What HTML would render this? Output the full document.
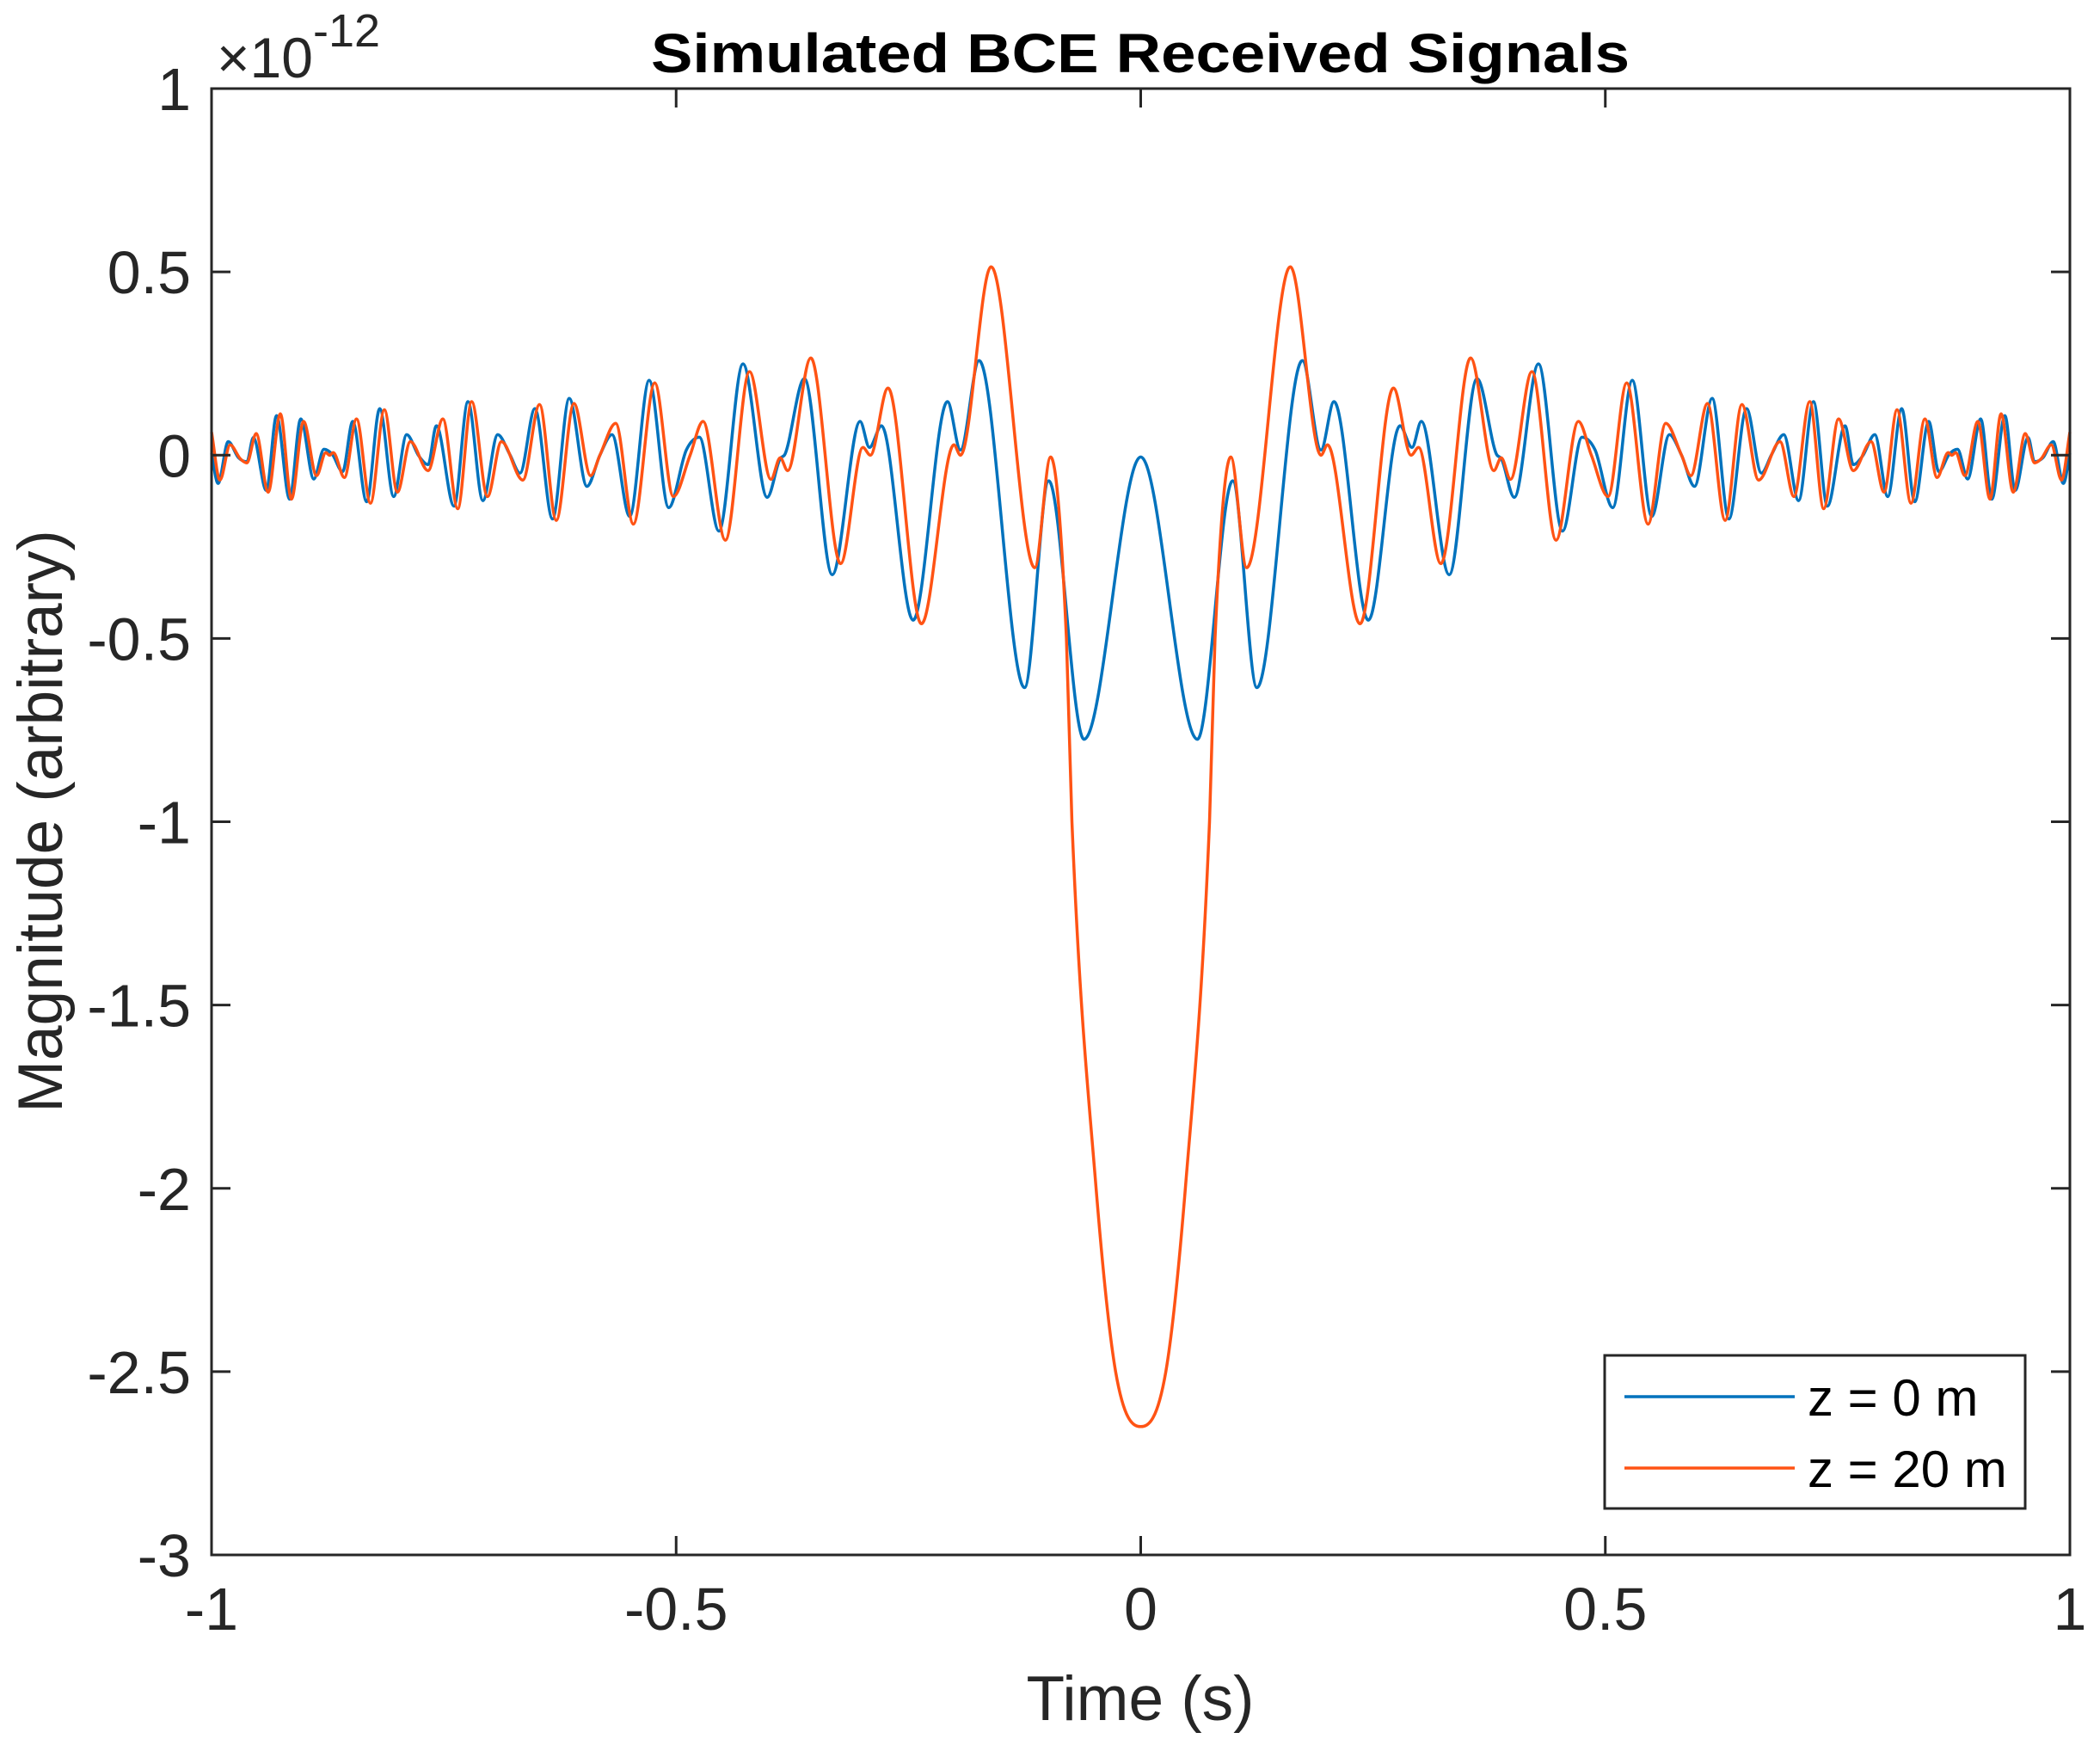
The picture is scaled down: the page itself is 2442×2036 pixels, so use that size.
<!DOCTYPE html>
<html><head><meta charset="utf-8"><style>
html,body{margin:0;padding:0;background:#fff;}
svg{display:block;font-family:"Liberation Sans",Arial,sans-serif;}
</style></head><body>
<svg id="chart" width="2442" height="2036" viewBox="0 0 2442 2036" xmlns="http://www.w3.org/2000/svg">
<rect width="2442" height="2036" fill="#fff"/>
<g id="plot"></g>
<text x="1326" y="84" text-anchor="middle" font-size="64" font-weight="bold" fill="#000" textLength="1138" lengthAdjust="spacingAndGlyphs">Simulated BCE Received Signals</text>
<text x="252" y="90" font-size="66" fill="#262626">×10<tspan font-size="54" dy="-36">-12</tspan></text>
<text x="1326" y="2000" text-anchor="middle" font-size="73" fill="#262626">Time (s)</text>
<text transform="translate(72,955) rotate(-90)" text-anchor="middle" font-size="73" fill="#262626">Magnitude (arbitrary)</text>
<g>
<rect x="1866" y="1576" width="489" height="178" fill="#fff" stroke="#262626" stroke-width="3"/>
<line x1="1889" y1="1624" x2="2087" y2="1624" stroke="#0072BD" stroke-width="3.5"/>
<text x="2102" y="1646" font-size="60" fill="#000">z = 0 m</text>
<line x1="1889" y1="1707" x2="2087" y2="1707" stroke="#FF5314" stroke-width="3.5"/>
<text x="2102" y="1729" font-size="60" fill="#000">z = 20 m</text>
</g>
</svg>
<script>
const xTicks = [-1, -0.5, 0, 0.5, 1];
const xTickLabels = ["-1", "-0.5", "0", "0.5", "1"];
const yTicks = [-3, -2.5, -2, -1.5, -1, -0.5, 0, 0.5, 1];
const yTickLabels = ["-3", "-2.5", "-2", "-1.5", "-1", "-0.5", "0", "0.5", "1"];
const blueT = [-1.0,-0.993,-0.982,-0.971,-0.962,-0.955,-0.941,-0.930,-0.916,-0.904,-0.890,-0.879,-0.870,-0.859,-0.848,-0.833,-0.819,-0.804,-0.790,-0.777,-0.767,-0.758,-0.739,-0.724,-0.708,-0.692,-0.679,-0.668,-0.652,-0.633,-0.615,-0.596,-0.582,-0.569,-0.550,-0.529,-0.508,-0.489,-0.475,-0.454,-0.428,-0.402,-0.388,-0.383,-0.362,-0.332,-0.302,-0.292,-0.279,-0.245,-0.208,-0.194,-0.174,-0.125,-0.099,-0.061,0,
0.061,0.099,0.125,0.174,0.194,0.208,0.245,0.279,0.292,0.302,0.332,0.362,0.383,0.388,0.402,0.428,0.454,0.475,0.489,0.508,0.529,0.550,0.569,0.582,0.596,0.615,0.633,0.652,0.668,0.679,0.692,0.708,0.724,0.739,0.758,0.767,0.777,0.790,0.804,0.819,0.833,0.848,0.859,0.870,0.879,0.890,0.904,0.916,0.930,0.941,0.955,0.962,0.971,0.982,0.993,1.0];
const blueV = [0.005,-0.077,0.037,-0.007,-0.018,0.048,-0.096,0.108,-0.12,0.099,-0.065,0.016,0.002,-0.045,0.092,-0.127,0.127,-0.113,0.056,-0.002,-0.026,0.080,-0.139,0.146,-0.124,0.056,0.002,-0.049,0.127,-0.174,0.155,-0.085,0,0.056,-0.167,0.204,-0.143,0.014,0.049,-0.207,0.249,-0.115,-0.009,0.002,0.209,-0.326,0.092,0.021,0.08,-0.45,0.146,0.014,0.258,-0.634,-0.07,-0.775,-0.005,
-0.775,-0.07,-0.634,0.258,0.014,0.146,-0.45,0.08,0.021,0.092,-0.326,0.209,0.002,-0.009,-0.115,0.249,-0.207,0.049,0.014,-0.143,0.204,-0.167,0.056,0,-0.085,0.155,-0.174,0.127,-0.049,0.002,0.056,-0.124,0.146,-0.139,0.080,-0.026,-0.002,0.056,-0.113,0.127,-0.127,0.092,-0.045,0.002,0.016,-0.065,0.099,-0.12,0.108,-0.096,0.048,-0.018,-0.007,0.037,-0.077,0.005];
const orangeT = [-1.0,-0.991,-0.980,-0.969,-0.962,-0.952,-0.939,-0.926,-0.914,-0.901,-0.887,-0.877,-0.873,-0.869,-0.857,-0.844,-0.829,-0.814,-0.800,-0.786,-0.767,-0.751,-0.735,-0.720,-0.703,-0.688,-0.665,-0.647,-0.629,-0.610,-0.592,-0.582,-0.565,-0.546,-0.523,-0.503,-0.485,-0.471,-0.447,-0.421,-0.398,-0.388,-0.380,-0.355,-0.323,-0.299,-0.291,-0.272,-0.236,-0.201,-0.194,-0.161,-0.114,-0.097,-0.080,-0.074,-0.048,-0.027,0,
0.027,0.048,0.074,0.080,0.097,0.114,0.161,0.194,0.201,0.236,0.272,0.291,0.299,0.323,0.355,0.380,0.388,0.398,0.421,0.447,0.471,0.485,0.503,0.523,0.546,0.565,0.582,0.592,0.610,0.629,0.647,0.665,0.688,0.703,0.720,0.735,0.751,0.767,0.786,0.800,0.814,0.829,0.844,0.857,0.869,0.873,0.877,0.887,0.901,0.914,0.926,0.939,0.952,0.962,0.969,0.980,0.991,1.0];
const orangeV = [0.063,-0.068,0.028,-0.01,-0.021,0.059,-0.101,0.113,-0.12,0.092,-0.056,0.007,0,0.007,-0.061,0.099,-0.131,0.124,-0.101,0.037,-0.042,0.099,-0.146,0.146,-0.113,0.037,-0.068,0.138,-0.178,0.141,-0.056,0,0.087,-0.188,0.197,-0.113,0,0.092,-0.232,0.228,-0.066,-0.007,-0.042,0.265,-0.296,0.021,0,0.183,-0.46,0.028,0,0.514,-0.307,-0.005,-0.5,-1.0,-2.0,-2.5,-2.65,
-2.5,-2.0,-1.0,-0.5,-0.005,-0.307,0.514,0,0.028,-0.46,0.183,0,0.021,-0.296,0.265,-0.042,-0.007,-0.066,0.228,-0.232,0.092,0,-0.113,0.197,-0.188,0.087,0,-0.056,0.141,-0.178,0.138,-0.068,0.037,-0.113,0.146,-0.146,0.099,-0.042,0.037,-0.101,0.124,-0.131,0.099,-0.061,0.007,0,0.007,-0.056,0.092,-0.12,0.113,-0.101,0.059,-0.021,-0.01,0.028,-0.068,0.063];

const L=246,R=2407,T=103,B=1808;
const xScale=t=>L+(t+1)/2*(R-L);
const yScale=v=>B-(v+3)/4*(B-T);
const NS="http://www.w3.org/2000/svg";
const plot=document.getElementById('plot');

function monoPath(xs,ys){
  const n=xs.length,px=xs.map(xScale),py=ys.map(yScale);
  const d=[],m=[];
  for(let i=0;i<n-1;i++)d.push((py[i+1]-py[i])/(px[i+1]-px[i]));
  for(let i=0;i<n;i++){
    if(i===0)m.push(d[0]);else if(i===n-1)m.push(d[n-2]);
    else m.push(d[i-1]*d[i]<=0?0:(d[i-1]+d[i])/2);
  }
  for(let i=0;i<n-1;i++){
    if(d[i]===0){m[i]=0;m[i+1]=0;continue;}
    const a=m[i]/d[i],b=m[i+1]/d[i],s=a*a+b*b;
    if(s>9){const k=3/Math.sqrt(s);m[i]=k*a*d[i];m[i+1]=k*b*d[i];}
  }
  let p='M'+px[0].toFixed(1)+','+py[0].toFixed(1);
  for(let i=0;i<n-1;i++){
    const h=(px[i+1]-px[i])/3;
    p+=' C'+(px[i]+h).toFixed(1)+','+(py[i]+m[i]*h).toFixed(1)+' '+(px[i+1]-h).toFixed(1)+','+(py[i+1]-m[i+1]*h).toFixed(1)+' '+px[i+1].toFixed(1)+','+py[i+1].toFixed(1);
  }
  return p;
}

const sb=document.createElementNS(NS,'path');
sb.setAttribute('d',monoPath(blueT,blueV));
sb.setAttribute('fill','none');sb.setAttribute('stroke','#0072BD');sb.setAttribute('stroke-width','3.5');


plot.appendChild(sb);
const so=document.createElementNS(NS,'path');
so.setAttribute('d',monoPath(orangeT,orangeV));
so.setAttribute('fill','none');so.setAttribute('stroke','#FF5314');so.setAttribute('stroke-width','3.5');


plot.appendChild(so);

const frame=document.createElementNS(NS,'rect');
frame.setAttribute('x',L);frame.setAttribute('y',T);frame.setAttribute('width',R-L);frame.setAttribute('height',B-T);
frame.setAttribute('fill','none');frame.setAttribute('stroke','#262626');frame.setAttribute('stroke-width','3');


plot.appendChild(frame);

function line(x1,y1,x2,y2){const l=document.createElementNS(NS,'line');l.setAttribute('x1',x1);l.setAttribute('y1',y1);l.setAttribute('x2',x2);l.setAttribute('y2',y2);l.setAttribute('stroke','#262626');l.setAttribute('stroke-width','3');return l;}
xTicks.forEach((t,i)=>{
  const x=xScale(t);
  const a=line(x,B,x,B-22);
  
  
  plot.appendChild(a);
  const b=line(x,T,x,T+22);
  
  
  plot.appendChild(b);
  const tx=document.createElementNS(NS,'text');
  tx.setAttribute('x',x);tx.setAttribute('y',1895);tx.setAttribute('text-anchor','middle');tx.setAttribute('font-size','70');tx.setAttribute('fill','#262626');
  tx.textContent=xTickLabels[i];
  
  
  plot.appendChild(tx);
});
yTicks.forEach((v,i)=>{
  const y=yScale(v);
  const a=line(L,y,L+22,y);
  
  
  plot.appendChild(a);
  const b=line(R,y,R-22,y);
  
  
  plot.appendChild(b);
  const tx=document.createElementNS(NS,'text');
  tx.setAttribute('x',222);tx.setAttribute('y',y+25);tx.setAttribute('text-anchor','end');tx.setAttribute('font-size','70');tx.setAttribute('fill','#262626');
  tx.textContent=yTickLabels[i];
  
  
  plot.appendChild(tx);
});
</script>
</body></html>
